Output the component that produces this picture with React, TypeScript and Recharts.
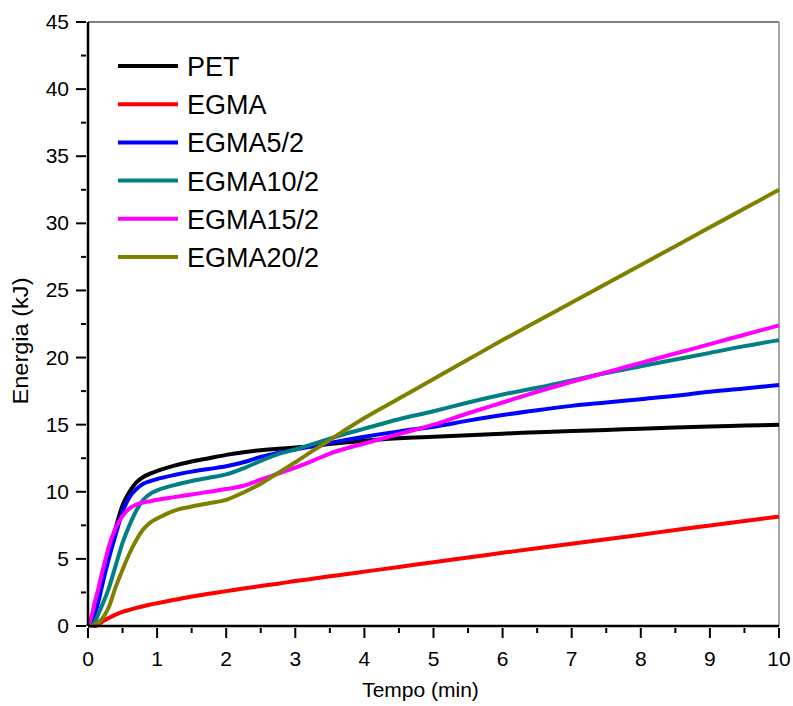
import { LineChart, Line, XAxis, YAxis, ReferenceLine, Legend } from "recharts";

const FONT = '"Liberation Sans", Arial, Helvetica, sans-serif';

// time (min)
const tempo = [
  0, 0.05, 0.1, 0.15, 0.2, 0.25, 0.3, 0.4, 0.5, 0.6, 0.7, 0.8, 0.9, 1,
  1.25, 1.5, 1.75, 2, 2.25, 2.5, 2.75, 3, 3.25, 3.5, 3.75, 4, 4.5, 5,
  5.5, 6, 6.5, 7, 7.5, 8, 8.5, 9, 9.5, 10,
];

// energy (kJ) per sample
const pet = [
  0, 0.6, 1.6, 2.5, 3.4, 4.5, 5.5, 7.3, 9.0, 10.0, 10.7, 11.1, 11.35, 11.55,
  11.95, 12.25, 12.5, 12.75, 12.95, 13.1, 13.2, 13.3, 13.4, 13.55, 13.68, 13.8, 13.98, 14.1,
  14.22, 14.33, 14.43, 14.53, 14.61, 14.7, 14.78, 14.86, 14.93, 15.0,
];
const egma = [
  0, 0, 0, 0.1, 0.3, 0.45, 0.6, 0.85, 1.05, 1.2, 1.35, 1.47, 1.6, 1.7,
  1.95, 2.2, 2.4, 2.6, 2.8, 2.98, 3.15, 3.35, 3.52, 3.7, 3.87, 4.05, 4.4, 4.75,
  5.1, 5.45, 5.8, 6.13, 6.47, 6.8, 7.15, 7.48, 7.82, 8.15,
];
const egma5 = [
  0, 0.2, 0.9, 1.8, 2.9, 4.0, 5.0, 6.8, 8.5, 9.6, 10.2, 10.6, 10.8, 10.95,
  11.25, 11.5, 11.7, 11.9, 12.2, 12.6, 12.9, 13.15, 13.38, 13.65, 13.88, 14.1, 14.5, 14.85,
  15.3, 15.72, 16.08, 16.4, 16.65, 16.9, 17.15, 17.45, 17.7, 17.95,
];
const egma10 = [
  0, 0, 0.3, 0.9, 1.5, 2.1, 2.8, 4.5, 6.2, 7.5, 8.6, 9.4, 9.85, 10.1,
  10.5, 10.8, 11.05, 11.3, 11.75, 12.3, 12.8, 13.15, 13.55, 13.95, 14.35, 14.7, 15.4, 16.0,
  16.65, 17.25, 17.75, 18.3, 18.85, 19.35, 19.85, 20.35, 20.85, 21.3,
];
const egma15 = [
  0, 0.7, 1.8, 2.8, 3.9, 4.9, 5.9, 7.3, 8.2, 8.75, 9.05, 9.2, 9.3, 9.4,
  9.6, 9.8, 10.0, 10.2, 10.45, 10.9, 11.35, 11.8, 12.3, 12.85, 13.25, 13.6, 14.3, 15.0,
  15.85, 16.65, 17.45, 18.2, 18.9, 19.6, 20.3, 21.0, 21.7, 22.4,
];
const egma20 = [
  0, 0, 0.1, 0.25, 0.5, 0.9, 1.4, 2.9, 4.2, 5.4, 6.4, 7.2, 7.7, 8.0,
  8.6, 8.9, 9.15, 9.4, 9.95, 10.6, 11.4, 12.2, 13.05, 13.85, 14.7, 15.5, 16.95, 18.4,
  19.85, 21.3, 22.7, 24.1, 25.5, 26.9, 28.3, 29.7, 31.1, 32.5,
];

const seriesNames = ["PET", "EGMA", "EGMA5/2", "EGMA10/2", "EGMA15/2", "EGMA20/2"];
const seriesValues = [pet, egma, egma5, egma10, egma15, egma20];
const seriesColors = ["#000000", "#ff0000", "#0000ff", "#008080", "#ff00ff", "#808000"];

// major + minor tick positions
const xTicks = [0, 0.5, 1, 1.5, 2, 2.5, 3, 3.5, 4, 4.5, 5, 5.5, 6, 6.5, 7, 7.5, 8, 8.5, 9, 9.5, 10];
const yTicks = [0, 2.5, 5, 7.5, 10, 12.5, 15, 17.5, 20, 22.5, 25, 27.5, 30, 32.5, 35, 37.5, 40, 42.5, 45];

const data = tempo.map((t, i) => {
  const row: Record<string, number> = { t };
  seriesNames.forEach((name, s) => {
    row[name] = seriesValues[s][i];
  });
  return row;
});

function XTick(props: any) {
  const { x, y, payload } = props;
  const major = Number.isInteger(payload.value);
  return (
    <g>
      <line x1={x} y1={y} x2={x} y2={y + (major ? 10 : 5)} stroke="#000" strokeWidth={2} />
      {major && (
        <text x={x} y={y + 38} textAnchor="middle" fontSize={21} fontFamily={FONT} fill="#000">
          {payload.value}
        </text>
      )}
    </g>
  );
}

function YTick(props: any) {
  const { x, y, payload } = props;
  const major = payload.value % 5 === 0;
  return (
    <g>
      <line x1={x} y1={y} x2={x - (major ? 10 : 5)} y2={y} stroke="#000" strokeWidth={2} />
      {major && (
        <text x={x - 17} y={y + 7} textAnchor="end" fontSize={21} fontFamily={FONT} fill="#000">
          {payload.value}
        </text>
      )}
    </g>
  );
}

function XTitle(props: any) {
  const { x, y, width } = props.viewBox;
  return (
    <text x={x + width / 2 - 13} y={y + 71} textAnchor="middle" fontSize={21} fontFamily={FONT} fill="#000">
      Tempo (min)
    </text>
  );
}

function YTitle(props: any) {
  const { y, height } = props.viewBox;
  const cx = 28;
  const cy = y + height / 2 + 17;
  return (
    <text
      x={cx}
      y={cy}
      transform={`rotate(-90 ${cx} ${cy})`}
      textAnchor="middle"
      fontSize={22}
      fontFamily={FONT}
      fill="#000"
      textLength={127}
      lengthAdjust="spacingAndGlyphs"
    >
      Energia (kJ)
    </text>
  );
}

function LegendBox() {
  return (
    <svg width={340} height={280} style={{ overflow: "visible", display: "block" }}>
      {seriesNames.map((name, i) => {
        const cy = 66 + i * 38.2;
        return (
          <g key={name}>
            <line x1={118} y1={cy} x2={178} y2={cy} stroke={seriesColors[i]} strokeWidth={4} />
            <text x={187} y={cy + 10} fontSize={27} fontFamily={FONT} fill="#000">
              {name}
            </text>
          </g>
        );
      })}
    </svg>
  );
}

export default function App() {
  return (
    <div style={{ position: "absolute", left: 0, top: 0, background: "#fff" }}>
      <LineChart width={793} height={706} data={data} margin={{ top: 22, right: 14, left: 0, bottom: 0 }}>
        <XAxis
          dataKey="t"
          type="number"
          domain={[0, 10]}
          ticks={xTicks}
          interval={0}
          height={80}
          tickSize={0}
          tickLine={false}
          axisLine={{ stroke: "#000", strokeWidth: 2.5 }}
          tick={<XTick />}
          label={<XTitle />}
        />
        <YAxis
          type="number"
          domain={[0, 45]}
          ticks={yTicks}
          interval={0}
          width={88}
          tickSize={0}
          tickLine={false}
          axisLine={{ stroke: "#000", strokeWidth: 2.5 }}
          tick={<YTick />}
          label={<YTitle />}
        />
        <ReferenceLine y={45} stroke="#555" strokeWidth={1.5} />
        <ReferenceLine x={10} stroke="#888" strokeWidth={1.5} />
        {seriesNames.map((name, i) => (
          <Line
            key={name}
            type="monotone"
            dataKey={name}
            stroke={seriesColors[i]}
            strokeWidth={4}
            dot={false}
            activeDot={false}
            isAnimationActive={false}
          />
        ))}
        <Legend
          layout="horizontal"
          verticalAlign="middle"
          align="center"
          wrapperStyle={{ left: 0, top: 0, width: 340, height: 280 }}
          content={<LegendBox />}
        />
      </LineChart>
    </div>
  );
}
